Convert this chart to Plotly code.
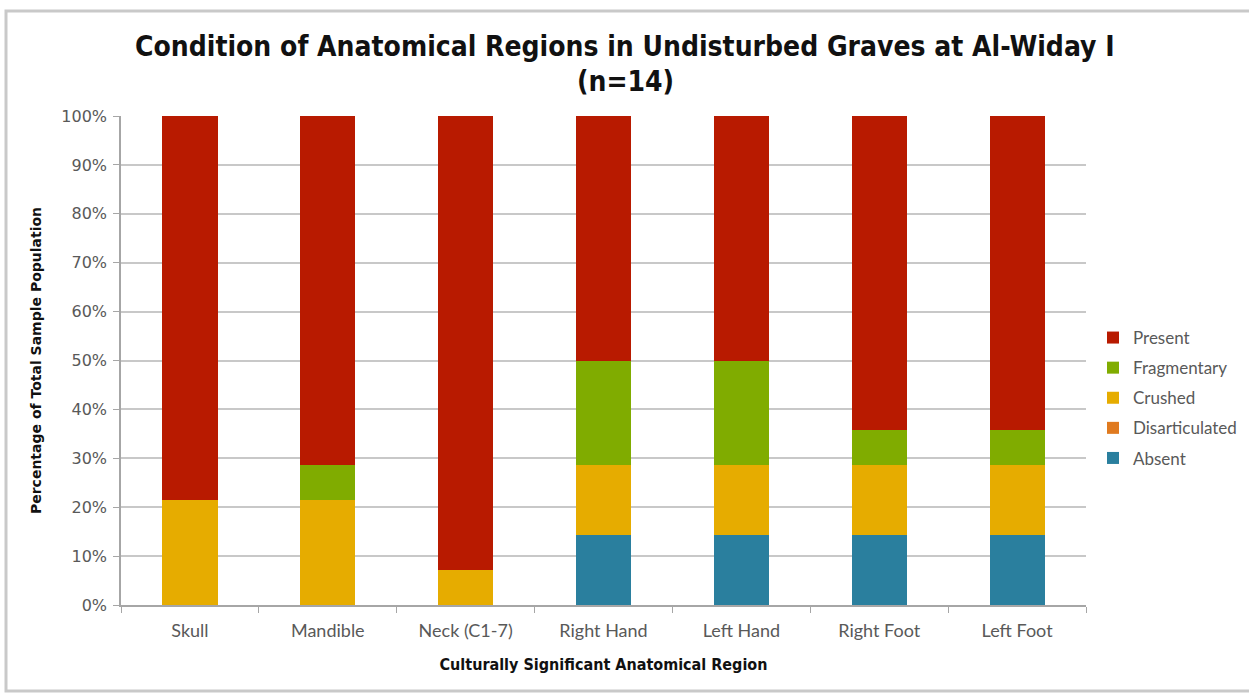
import plotly.graph_objects as go

# Sample size and per-region counts of each condition
n_graves = 14
regions = ["Skull", "Mandible", "Neck (C1-7)", "Right Hand", "Left Hand", "Right Foot", "Left Foot"]
absent = [0, 0, 0, 2, 2, 2, 2]
disarticulated = [0, 0, 0, 0, 0, 0, 0]
crushed = [3, 3, 1, 2, 2, 2, 2]
fragmentary = [0, 1, 0, 3, 3, 1, 1]
present = [11, 10, 13, 7, 7, 9, 9]

series = [
    ("Absent", absent, "#2A7F9E", 5),
    ("Disarticulated", disarticulated, "#E07A1F", 4),
    ("Crushed", crushed, "#E6AC00", 3),
    ("Fragmentary", fragmentary, "#80AC00", 2),
    ("Present", present, "#B81A00", 1),
]

fig = go.Figure()
for name, counts, color, rank in series:
    fig.add_trace(go.Bar(
        x=regions,
        y=[c / n_graves * 100 for c in counts],
        name=name,
        legendgroup=name,
        legendrank=rank,
        marker=dict(color=color, line=dict(width=0)),
    ))

# plot area in pixels: left 121, right 1086, top 116, bottom 605
L, R, T, B = 121, 1086, 116, 605
W, H = 1249, 698
pw, ph = R - L, B - T

def px(x):
    return (x - L) / pw

def py(y):
    return (B - y) / ph

grey = "#595959"
cond = "DejaVu Sans Condensed, Liberation Sans Narrow, sans-serif"
label_font = "Lato, Open Sans, sans-serif"

fig.update_layout(
    width=W, height=H,
    barmode="stack",
    bargap=0.6,
    plot_bgcolor="white",
    paper_bgcolor="white",
    margin=dict(l=L, r=W - R, t=T, b=H - B, pad=0, autoexpand=False),
    xaxis=dict(
        showline=True, linecolor="#a6a6a6", linewidth=1.5,
        ticks="outside", tickson="boundaries", ticklen=6, tickcolor="#a6a6a6",
        ticklabelstandoff=9,
        tickfont=dict(family=label_font, size=18, color=grey),
        title=dict(text="<b>Culturally Significant Anatomical Region</b>",
                   font=dict(family=cond, size=16, color="#111111"), standoff=18),
    ),
    yaxis=dict(
        range=[0, 100], dtick=10, ticksuffix="%",
        showline=True, linecolor="#a6a6a6", linewidth=1.5,
        ticks="outside", ticklen=6, tickcolor="#a6a6a6",
        ticklabelstandoff=3,
        showgrid=True, gridcolor="#c8c8c8", gridwidth=1.5,
        zeroline=False,
        tickfont=dict(family="DejaVu Sans, sans-serif", size=16, color=grey),
        title=dict(text="<b>Percentage of Total Sample Population</b>",
                   font=dict(family="DejaVu Sans, sans-serif", size=14, color="#111111"),
                   standoff=16),
    ),
    legend=dict(
        x=px(1093), y=py(320), xanchor="left", yanchor="top",
        traceorder="grouped", tracegroupgap=5,
        font=dict(family=label_font, size=17, color=grey),
        itemwidth=30,
        bgcolor="rgba(0,0,0,0)",
    ),
    annotations=[
        dict(text="<b>Condition of Anatomical Regions in Undisturbed Graves at Al-Widay I</b>",
             xref="paper", yref="paper", x=px(625), y=py(47),
             xanchor="center", yanchor="middle", showarrow=False,
             font=dict(family=cond, size=28, color="#111111")),
        dict(text="<b>(n=14)</b>",
             xref="paper", yref="paper", x=px(625), y=py(81),
             xanchor="center", yanchor="middle", showarrow=False,
             font=dict(family=cond, size=28, color="#111111")),
    ],
    shapes=[dict(
        type="rect", xref="paper", yref="paper",
        x0=px(6), x1=px(1253), y0=py(691), y1=py(11),
        line=dict(color="#c9c9c9", width=3), fillcolor="rgba(0,0,0,0)", layer="below",
    )],
)

fig.write_html("out.html")
